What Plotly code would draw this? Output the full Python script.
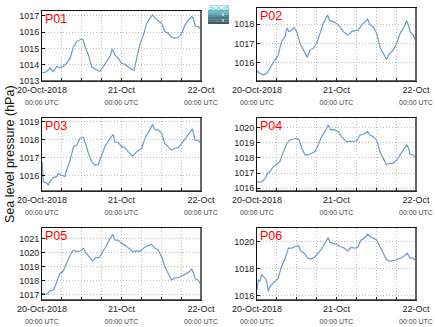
import plotly.graph_objects as go
import pandas as pd

# ---------------- data (hours since 20-Oct-2018 00:00 UTC, pressure hPa) ----------------
p01_h = [0, 1.4, 2.4, 3.0, 3.4, 4.4, 5.4, 6.4, 7.4, 8.5, 9.0, 9.5, 10.5, 11.5, 12.0, 12.5, 13, 14, 15, 16, 17, 17.5, 18.5, 19.5, 20.5, 21.2, 22, 23, 24, 25, 26, 27, 27.8, 28.6, 29.6, 30.6, 31.6, 32.6, 33.4, 34.1, 35.1, 36.1, 37.1, 38.1, 39.1, 40.1, 41.1, 42.2, 43.2, 44.2, 45.2, 45.7, 46.2, 47.2, 48]
p01_v = [1013.5, 1013.57, 1013.8, 1013.65, 1013.57, 1013.88, 1013.82, 1013.88, 1014.09, 1014.4, 1014.7, 1015.11, 1015.42, 1015.55, 1015.6, 1015.5, 1015.11, 1014.6, 1013.88, 1013.72, 1013.67, 1013.6, 1013.88, 1014.19, 1014.5, 1014.95, 1014.6, 1014.4, 1014.09, 1014.03, 1013.88, 1013.72, 1013.67, 1014.5, 1015.3, 1015.83, 1016.55, 1016.86, 1017.06, 1016.86, 1016.7, 1016.55, 1016.04, 1015.93, 1015.69, 1015.63, 1015.67, 1015.93, 1016.45, 1016.75, 1016.96, 1016.86, 1016.38, 1016.34, 1016.18]

p02_h = [0, 0.9, 1.9, 2.9, 3.6, 4.4, 5.4, 6.4, 6.9, 7.4, 8.5, 9.0, 9.7, 10.5, 11.2, 12, 13, 14, 15.2, 16, 17, 18, 19, 20, 21.3, 22, 23, 24, 25, 26, 27.4, 28.6, 29.6, 30.6, 31.6, 32.6, 33.4, 34.1, 35.1, 36.1, 37.1, 38.1, 39.1, 40.1, 41.1, 42.2, 43.2, 44.2, 45.2, 45.7, 46.2, 47.2, 48]
p02_v = [1015.57, 1015.44, 1015.36, 1015.44, 1015.62, 1015.88, 1016.14, 1016.4, 1016.75, 1017.1, 1017.36, 1017.8, 1017.62, 1017.7, 1017.84, 1017.62, 1017.0, 1016.66, 1016.28, 1016.66, 1016.75, 1017.0, 1017.53, 1018.05, 1018.49, 1018.19, 1018.14, 1018.05, 1017.88, 1017.62, 1017.44, 1017.62, 1017.67, 1017.7, 1017.97, 1018.14, 1018.26, 1017.97, 1017.88, 1017.53, 1016.83, 1016.49, 1016.17, 1016.49, 1016.66, 1017.0, 1017.53, 1017.8, 1018.19, 1017.97, 1017.62, 1017.44, 1017.1]

p03_h = [0, 0.4, 1.4, 1.9, 2.4, 3.4, 4.4, 4.9, 5.9, 6.9, 7.4, 8.5, 9.5, 10.5, 11.5, 12.5, 13.3, 14, 15, 16, 17, 18, 19, 20.5, 21.5, 22, 23, 24, 25, 26, 27.4, 28.6, 30.1, 31.1, 32.1, 33.4, 34.1, 35.1, 36.1, 37.1, 38.1, 39.1, 40.1, 41.1, 42.2, 43.2, 44.2, 45.4, 46.2, 47.2, 48]
p03_v = [1016.79, 1015.69, 1015.6, 1015.5, 1015.69, 1015.91, 1015.96, 1016.15, 1016.05, 1015.96, 1016.33, 1016.88, 1017.62, 1017.71, 1018.08, 1018.13, 1017.71, 1017.25, 1016.79, 1016.6, 1016.64, 1017.16, 1017.62, 1018.08, 1018.3, 1017.86, 1017.86, 1017.62, 1017.56, 1017.34, 1017.1, 1017.34, 1017.53, 1018.08, 1018.45, 1018.85, 1018.54, 1018.54, 1018.36, 1017.8, 1017.62, 1017.43, 1017.53, 1017.56, 1017.8, 1018.08, 1018.3, 1018.6, 1017.99, 1017.95, 1017.8]

p04_h = [0, 1.4, 2.4, 3.2, 3.9, 4.9, 5.9, 6.9, 7.4, 8.0, 9, 10, 11, 12, 12.7, 13.5, 14.5, 15.5, 16.5, 17.5, 18.5, 19.5, 20.5, 21.5, 22.3, 23.3, 24.5, 25.5, 27, 28.6, 30.1, 31.1, 32.1, 33.4, 34.1, 35.1, 36.1, 37.1, 38.1, 39.1, 40.1, 41.1, 42.2, 43.2, 44.2, 45.2, 45.7, 46.2, 47.2, 48]
p04_v = [1016.4, 1016.44, 1016.62, 1016.99, 1017.1, 1017.43, 1017.58, 1017.76, 1018.09, 1018.42, 1018.96, 1019.19, 1019.23, 1019.3, 1019.19, 1018.64, 1018.2, 1018.2, 1018.31, 1018.42, 1018.86, 1019.41, 1019.74, 1020.18, 1019.85, 1019.89, 1019.74, 1019.41, 1019.08, 1019.12, 1019.12, 1019.52, 1019.56, 1019.74, 1019.52, 1019.41, 1019.19, 1018.42, 1017.98, 1017.54, 1017.65, 1017.65, 1017.87, 1018.2, 1018.53, 1018.86, 1018.68, 1018.24, 1018.2, 1017.98]

p05_h = [0, 1.4, 2.4, 3.4, 3.9, 4.4, 5.4, 6.4, 6.9, 7.4, 8.5, 9.5, 10.3, 11.5, 12.5, 13.3, 14.3, 15.3, 16.3, 17.3, 18.3, 19.3, 20.3, 21.3, 22, 23, 24, 25, 26, 27.4, 28.6, 29.6, 30.6, 31.6, 33.1, 34.1, 35.1, 36.1, 37.1, 38.1, 39.1, 40.1, 41.1, 42.2, 43.2, 44.2, 45.2, 45.7, 46.2, 47.2, 48]
p05_v = [1017.07, 1017.0, 1017.24, 1017.31, 1017.55, 1017.9, 1018.5, 1018.67, 1018.98, 1019.21, 1019.81, 1020.17, 1020.05, 1020.1, 1020.29, 1019.93, 1019.69, 1019.38, 1019.62, 1019.62, 1020.05, 1020.4, 1020.88, 1021.29, 1020.88, 1020.88, 1020.64, 1020.52, 1020.33, 1020.05, 1020.1, 1020.05, 1020.29, 1020.45, 1020.57, 1020.29, 1020.17, 1019.69, 1018.98, 1018.5, 1018.02, 1018.19, 1018.19, 1018.31, 1018.43, 1018.57, 1018.81, 1018.57, 1018.14, 1018.02, 1017.67]

p06_h = [0, 0.4, 0.9, 1.4, 1.9, 2.4, 2.9, 3.4, 3.9, 4.4, 5.4, 6.4, 7.4, 8.5, 9.5, 10.5, 11.5, 12.5, 13.3, 14.3, 15.3, 16.3, 17.3, 18.3, 19.3, 20.3, 21.5, 22, 23, 24, 25, 26, 27.4, 28.4, 29.4, 30.4, 31.4, 32.4, 33.4, 34.1, 35.1, 36.1, 37.1, 38.1, 39.1, 40.1, 41.1, 42.2, 43.2, 44.2, 45.4, 46.2, 47.2, 48]
p06_v = [1016.44, 1017.18, 1017.06, 1017.55, 1017.42, 1017.3, 1017.06, 1016.32, 1016.69, 1016.81, 1017.06, 1017.3, 1018.16, 1018.77, 1019.51, 1019.51, 1019.63, 1019.71, 1019.26, 1019.14, 1018.77, 1018.72, 1018.82, 1019.07, 1019.39, 1019.8, 1020.29, 1019.95, 1019.88, 1019.8, 1019.63, 1019.56, 1019.31, 1019.56, 1019.51, 1019.56, 1020.12, 1020.25, 1020.54, 1020.37, 1020.25, 1020.12, 1019.63, 1019.14, 1018.65, 1018.53, 1018.58, 1018.65, 1018.77, 1018.9, 1019.14, 1018.77, 1018.77, 1018.53]

station_names = ["P01", "P02", "P03", "P04", "P05", "P06"]
series_hours = [p01_h, p02_h, p03_h, p04_h, p05_h, p06_h]
series_vals = [p01_v, p02_v, p03_v, p04_v, p05_v, p06_v]
y_ranges = [[1013.0, 1017.3], [1015.05, 1018.85], [1015.17, 1019.2],
            [1015.82, 1020.64], [1016.6, 1021.74], [1015.68, 1021.0]]
y_ticks = [[1013, 1014, 1015, 1016, 1017], [1016, 1017, 1018], [1016, 1017, 1018, 1019],
           [1016, 1017, 1018, 1019, 1020], [1017, 1018, 1019, 1020, 1021], [1016, 1018, 1020]]
x_tick_hours = [0, 6, 12, 18, 24, 30, 36, 42, 48]
x_tick_main = {0: "20-Oct-2018", 24: "21-Oct", 48: "22-Oct"}
x_tick_sub = "00:00 UTC"
y_title = "Sea level pressure (hPa)"

# ---------------- layout geometry (pixels) ----------------
W, H = 435, 327
col_x = [(42, 201), (257, 416)]
row_y = [[(11, 81), (8, 81)], [(118, 191), (118, 191)], [(228, 300), (228, 300)]]

t0 = pd.Timestamp("2018-10-20 00:00")
def to_time(hours):
    return [t0 + pd.Timedelta(hours=h) for h in hours]

fig = go.Figure()
shapes = []
annotations = []
tickvals = to_time(x_tick_hours)
ticktext = []
for h in x_tick_hours:
    if h in x_tick_main:
        ticktext.append(x_tick_main[h] + "<br><span style='font-size:7px;color:#444'>" + x_tick_sub + "</span>")
    else:
        ticktext.append("")

FONT = "Liberation Sans, Arial"
for i in range(6):
    r, c = divmod(i, 2)
    x0p, x1p = col_x[c]
    y0p, y1p = row_y[r][c]
    sfx = "" if i == 0 else str(i + 1)
    xa, ya = "x" + sfx, "y" + sfx
    fig.add_trace(go.Scatter(x=to_time(series_hours[i]), y=series_vals[i], mode="lines",
                             line=dict(color="#6b9bcb", width=1.2), xaxis=xa, yaxis=ya,
                             showlegend=False, hoverinfo="skip"))
    xd = [x0p / W, x1p / W]
    yd = [1 - y1p / H, 1 - y0p / H]
    fig.layout["xaxis" + sfx] = dict(
        domain=xd, anchor=ya, range=[t0, t0 + pd.Timedelta(hours=48)], type="date",
        tickvals=tickvals, ticktext=ticktext, showgrid=True, gridcolor="#bdbdbd",
        griddash="1px,2px", gridwidth=1, showline=True, linecolor="#111", linewidth=1,
        mirror=True, ticks="inside", ticklen=3, tickcolor="#111", automargin=False,
        tickfont=dict(family=FONT, size=9, color="#222"), zeroline=False)
    fig.layout["yaxis" + sfx] = dict(
        domain=yd, anchor=xa, range=y_ranges[i], tickvals=y_ticks[i],
        ticktext=[str(v) for v in y_ticks[i]], showgrid=True, gridcolor="#bdbdbd",
        griddash="1px,2px", gridwidth=1, showline=True, linecolor="#111", linewidth=1,
        mirror=True, ticks="inside", ticklen=3, tickcolor="#111", automargin=False,
        tickfont=dict(family=FONT, size=9, color="#222"), zeroline=False)
    # heavier right / bottom frame edges
    shapes.append(dict(type="line", xref=xa + " domain", yref=ya + " domain", x0=1, x1=1, y0=0, y1=1,
                       line=dict(color="#666", width=2)))
    shapes.append(dict(type="line", xref=xa + " domain", yref=ya + " domain", x0=0, x1=1, y0=0, y1=0,
                       line=dict(color="#333", width=1.5)))
    annotations.append(dict(text=station_names[i], xref=xa + " domain", yref=ya + " domain",
                            x=0, y=1, xanchor="left", yanchor="top", xshift=1, yshift=1,
                            showarrow=False, font=dict(family=FONT, size=12.5, color="#ff0000")))

annotations.append(dict(text=y_title, xref="paper", yref="paper", x=10 / W, y=1 - 154 / H,
                        textangle=-90, showarrow=False, xanchor="center", yanchor="middle",
                        font=dict(family=FONT, size=12.5, color="#111")))

# small logo
logo_cols = ["#63bccd", "#5aa7b8", "#5290a0", "#4a7a88", "#426672", "#3c5662"]
lx0, lx1, ly0, ly1 = 208, 229, 10, 24
step = (ly1 - ly0) / len(logo_cols)
for k, col in enumerate(logo_cols):
    shapes.append(dict(type="rect", xref="paper", yref="paper", x0=lx0 / W, x1=lx1 / W,
                       y0=1 - (ly0 + (k + 1) * step) / H, y1=1 - (ly0 + k * step) / H,
                       line=dict(width=0), fillcolor=col))
shapes.append(dict(type="line", xref="paper", yref="paper", x0=223 / W, x1=223 / W,
                   y0=1 - 22 / H, y1=1 - 12 / H, line=dict(color="white", width=1, dash="dot")))
annotations.append(dict(text="SOCIB", xref="paper", yref="paper", x=(lx0 + lx1) / 2 / W, y=1 - 2 / H,
                        xanchor="center", yanchor="top", showarrow=False,
                        font=dict(family=FONT, size=6.5, color="#45b8d0")))

fig.update_layout(width=W, height=H, margin=dict(l=0, r=0, t=0, b=0),
                  paper_bgcolor="white", plot_bgcolor="white",
                  shapes=shapes, annotations=annotations, showlegend=False)
fig.write_html("out.html")
